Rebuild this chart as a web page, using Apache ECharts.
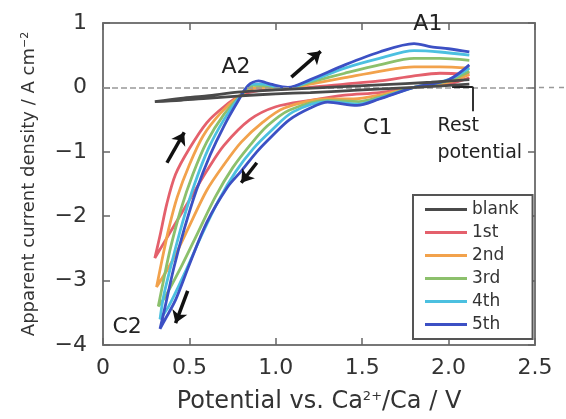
<!DOCTYPE html>
<html>
<head>
<meta charset="utf-8">
<script src="https://cdn.jsdelivr.net/npm/echarts@6/dist/echarts.min.js"></script>
<style>
  html, body { margin: 0; padding: 0; background: #fff; }
  #main { width: 566px; height: 419px; }
</style>
</head>
<body>
<div id="main"></div>
<script>
// legend names
var cycleNames = ['blank', '1st', '2nd', '3rd', '4th', '5th'];
var cycleColors = ['#4a4a4a', '#e4606c', '#f2a24c', '#8cc06c', '#4cc0e0', '#3c50c4'];

// [potential V, current A cm-2], in sweep order (cathodic then anodic)
var blank = [[2.12, 0.05], [1.8, 0.0], [1.5, -0.04], [1.2, -0.08], [1.0, -0.1], [0.8, -0.13], [0.6, -0.17], [0.45, -0.2], [0.3, -0.22],
  [0.45, -0.17], [0.6, -0.13], [0.8, -0.07], [1.0, -0.04], [1.3, 0.0], [1.6, 0.04], [1.9, 0.08], [2.12, 0.12]];
var cycle1 = [[2.12, 0.15], [2.0, 0.05], [1.8, 0.0], [1.6, -0.08], [1.4, -0.12], [1.2, -0.2], [1.0, -0.3], [0.85, -0.5], [0.7, -0.9],
  [0.6, -1.3], [0.5, -1.75], [0.4, -2.2], [0.3, -2.65],
  [0.33, -2.3], [0.37, -1.8], [0.42, -1.35], [0.5, -0.95], [0.6, -0.55], [0.7, -0.3], [0.8, -0.12], [0.9, -0.05],
  [1.0, -0.03], [1.2, 0.0], [1.4, 0.05], [1.6, 0.1], [1.8, 0.18], [1.95, 0.22], [2.12, 0.2]];
var cycle2 = [[2.12, 0.2], [2.0, 0.08], [1.8, 0.0], [1.6, -0.12], [1.45, -0.18], [1.3, -0.18], [1.05, -0.32], [0.92, -0.55], [0.8, -0.85],
  [0.7, -1.2], [0.6, -1.6], [0.5, -2.15], [0.4, -2.7], [0.31, -3.1],
  [0.34, -2.7], [0.38, -2.2], [0.43, -1.7], [0.5, -1.2], [0.58, -0.75], [0.68, -0.4], [0.78, -0.15], [0.86, -0.02],
  [0.95, 0.0], [1.05, -0.02], [1.2, 0.05], [1.4, 0.15], [1.6, 0.25], [1.8, 0.32], [1.95, 0.32], [2.12, 0.3]];
var cycle3 = [[2.12, 0.25], [2.0, 0.1], [1.8, 0.0], [1.6, -0.15], [1.48, -0.22], [1.3, -0.2], [1.08, -0.35], [0.95, -0.6], [0.85, -0.9],
  [0.75, -1.25], [0.65, -1.7], [0.55, -2.25], [0.45, -2.8], [0.36, -3.25], [0.32, -3.4],
  [0.35, -3.0], [0.39, -2.5], [0.45, -1.9], [0.52, -1.35], [0.6, -0.85], [0.7, -0.42], [0.8, -0.12], [0.87, 0.03],
  [0.95, 0.02], [1.05, -0.02], [1.2, 0.08], [1.4, 0.22], [1.6, 0.35], [1.8, 0.45], [1.95, 0.45], [2.12, 0.42]];
var cycle4 = [[2.12, 0.3], [2.0, 0.12], [1.8, 0.0], [1.6, -0.17], [1.48, -0.26], [1.3, -0.22], [1.1, -0.38], [0.97, -0.68], [0.87, -0.95],
  [0.77, -1.3], [0.67, -1.75], [0.57, -2.3], [0.47, -2.9], [0.38, -3.4], [0.33, -3.6],
  [0.35, -3.25], [0.4, -2.7], [0.46, -2.1], [0.53, -1.5], [0.61, -0.95], [0.7, -0.5], [0.79, -0.15], [0.86, 0.05],
  [0.93, 0.05], [1.05, -0.02], [1.2, 0.1], [1.4, 0.3], [1.6, 0.45], [1.8, 0.57], [1.95, 0.55], [2.12, 0.5]];
var cycle5 = [[2.12, 0.35], [2.0, 0.12], [1.8, 0.0], [1.6, -0.18], [1.47, -0.28], [1.3, -0.23], [1.2, -0.32], [1.08, -0.5], [0.98, -0.75],
  [0.89, -1.0], [0.8, -1.3], [0.72, -1.55], [0.6, -2.1], [0.5, -2.75], [0.42, -3.3], [0.36, -3.6], [0.33, -3.75],
  [0.36, -3.4], [0.41, -2.8], [0.47, -2.2], [0.54, -1.6], [0.62, -1.05], [0.7, -0.6], [0.78, -0.22], [0.84, 0.03],
  [0.9, 0.1], [0.97, 0.05], [1.07, 0.0], [1.2, 0.12], [1.4, 0.35], [1.6, 0.55], [1.8, 0.68], [1.9, 0.63], [2.0, 0.6], [2.12, 0.55]];
var cycles = [blank, cycle1, cycle2, cycle3, cycle4, cycle5];

// sweep direction arrows [from, to]
var arrows = [
  [[1.09, 0.16], [1.26, 0.56]],
  [[0.37, -1.17], [0.47, -0.7]],
  [[0.89, -1.17], [0.8, -1.48]],
  [[0.49, -3.16], [0.42, -3.66]]
];
// peak labels
var peakLabels = [
  { text: 'A1', at: [1.88, 0.98] },
  { text: 'A2', at: [0.77, 0.31] },
  { text: 'C1', at: [1.59, -0.63] },
  { text: 'C2', at: [0.14, -3.72] }
];
var restPotential = 2.14;

var font = 'DejaVu Sans, Liberation Sans, sans-serif';
var myChart = echarts.init(document.getElementById('main'));

var series = cycles.map(function (d, i) {
  return {
    name: cycleNames[i],
    type: 'line',
    data: d,
    symbol: 'none',
    smooth: 0.3,
    z: i === 0 ? 5 : 2 + i * 0.1,
    lineStyle: { width: 2.8, color: cycleColors[i] },
    itemStyle: { color: cycleColors[i] }
  };
});

// zero line, arrows and rest potential pointer
series.push({
  type: 'line',
  data: [],
  silent: true,
  markLine: {
    silent: true,
    symbol: 'none',
    label: { show: false },
    lineStyle: { color: '#999', type: 'dashed', width: 1.5 },
    data: [{ yAxis: 0 }]
  }
});
series.push({
  type: 'line',
  data: [],
  silent: true,
  markLine: {
    silent: true,
    label: { show: false },
    symbolSize: 12,
    lineStyle: { color: '#111', type: 'solid', width: 3.5 },
    data: arrows.map(function (a) {
      return [{ coord: a[0], symbol: 'none' }, { coord: a[1], symbol: 'arrow' }];
    }).concat([
      [{ coord: [restPotential, -0.37], symbol: 'none', lineStyle: { width: 2, color: '#333' } }, { coord: [restPotential, 0.01], symbol: 'none' }],
      [{ coord: [2.02, 0.01], symbol: 'none', lineStyle: { width: 2, color: '#222' } }, { coord: [restPotential, 0.01], symbol: 'none' }]
    ])
  }
});

var axisCommon = {
  type: 'value',
  axisLine: { show: true, onZero: false, lineStyle: { color: '#777', width: 2 } },
  axisTick: { show: true, inside: true, length: 7, lineStyle: { color: '#666', width: 1.5 } },
  splitLine: { show: false }
};

myChart.setOption({
  animation: false,
  textStyle: { fontFamily: font },
  grid: { left: 103, right: 31, top: 23, bottom: 74 },
  legend: {
    orient: 'vertical',
    left: 413,
    top: 195,
    padding: [6, 14, 6, 12],
    itemGap: 6,
    itemWidth: 42,
    itemHeight: 3,
    icon: 'rect',
    borderColor: '#555',
    borderWidth: 2,
    backgroundColor: '#fff',
    data: cycleNames,
    textStyle: { fontSize: 17, color: '#333', fontFamily: font }
  },
  xAxis: [
    Object.assign({}, axisCommon, {
      min: 0, max: 2.5, interval: 0.5,
      position: 'bottom',
      axisLabel: { fontSize: 22, color: '#333', margin: 12, formatter: function (v) { return v === 0 ? '0' : v.toFixed(1); } },
      name: 'Potential vs. Ca{sup|2+}/Ca / V',
      nameLocation: 'middle',
      nameGap: 45,
      nameTextStyle: { fontSize: 24, color: '#333', fontFamily: font, rich: { sup: { fontSize: 13, color: '#333', fontFamily: font, padding: [0, 0, 10, 0] } } }
    }),
    Object.assign({}, axisCommon, {
      min: 0, max: 2.5, interval: 0.5,
      position: 'top',
      axisLabel: { show: false }
    })
  ],
  yAxis: [
    Object.assign({}, axisCommon, {
      min: -4, max: 1, interval: 1,
      position: 'left',
      axisLabel: { fontSize: 22, color: '#333', margin: 16, formatter: function (v) { return v < 0 ? '\u2212' + (-v) : String(v); } },
      name: 'Apparent current density / A cm{sup|\u22122}',
      nameLocation: 'middle',
      nameGap: 64,
      nameTextStyle: { fontSize: 18, color: '#333', fontFamily: font, rich: { sup: { fontSize: 11, color: '#333', fontFamily: font, padding: [0, 0, 8, 0] } } }
    }),
    Object.assign({}, axisCommon, {
      min: -4, max: 1, interval: 1,
      position: 'right',
      axisLabel: { show: false }
    })
  ],
  series: series
});

// text labels placed in data coordinates
function toPx(p) {
  return myChart.convertToPixel({ xAxisIndex: 0, yAxisIndex: 0 }, p);
}
var graphics = peakLabels.map(function (p) {
  var px = toPx(p.at);
  return {
    type: 'text', x: px[0], y: px[1], z: 10,
    style: { text: p.text, fontSize: 22, fill: '#222', fontFamily: font, align: 'center', verticalAlign: 'middle' }
  };
});
var rp = toPx([1.936, -0.39]);
graphics.push({
  type: 'text', x: rp[0], y: rp[1], z: 10,
  style: { text: 'Rest\npotential', fontSize: 19, lineHeight: 27, fill: '#222', fontFamily: font, align: 'left', verticalAlign: 'top' }
});
// zero line continues past the right frame
var z0 = toPx([2.5, 0]);
graphics.push({
  type: 'line', z: 1, silent: true,
  shape: { x1: z0[0] + 4, y1: z0[1], x2: 566, y2: z0[1] },
  style: { stroke: '#999', lineWidth: 1.5, lineDash: [5, 5] }
});
myChart.setOption({ graphic: graphics });
</script>
</body>
</html>
